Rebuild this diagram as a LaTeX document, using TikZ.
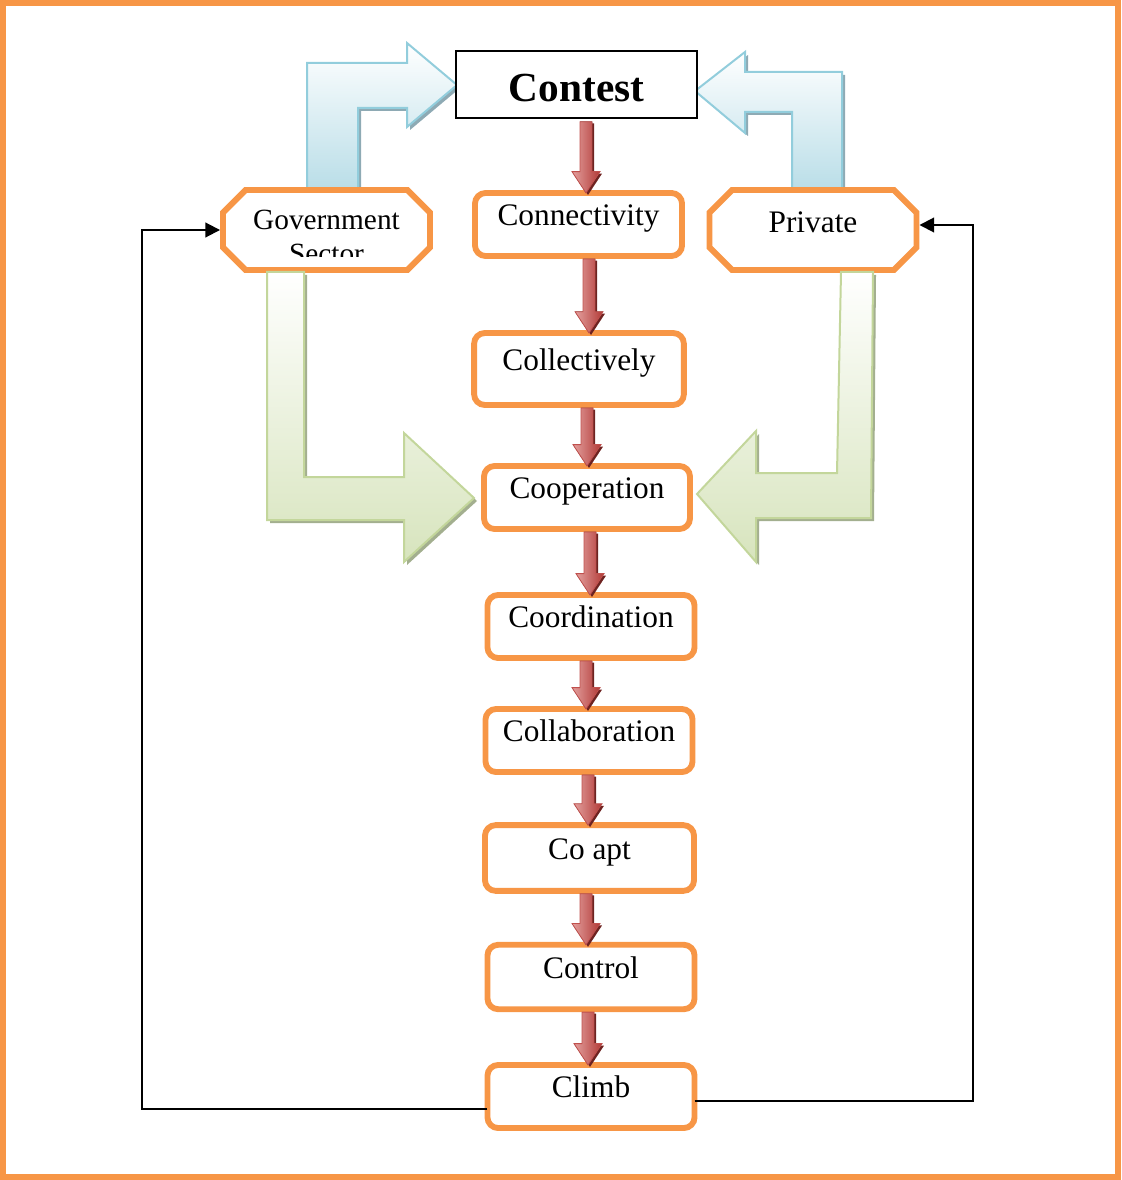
\documentclass[tikz,border=0pt]{standalone}
\usepackage{fontspec}
\setmainfont{Liberation Serif}
\usetikzlibrary{arrows.meta,calc}
\definecolor{frameor}{HTML}{F79646}
\definecolor{blueedge}{HTML}{92CDDC}
\definecolor{bluefill}{HTML}{B4DBE6}
\definecolor{blueshadow}{HTML}{8EAAB4}
\definecolor{greenedge}{HTML}{C3D69B}
\definecolor{greenfill}{HTML}{D7E4BD}
\definecolor{greenshadow}{HTML}{A3AF8F}
\definecolor{redmain}{HTML}{C0504D}
\definecolor{redlight}{HTML}{E3A09E}
\definecolor{reddark}{HTML}{B23A37}
\definecolor{redshadow}{HTML}{6E2321}

\newcommand\bxt[1]{\raisebox{-0.75pt}[0pt][0pt]{#1}}
\newcommand\octa[1]{%
  \filldraw[octline] ([xshift=17pt]#1.north west) -- ([xshift=-17pt]#1.north east)
   -- ([yshift=-17pt]#1.north east) -- ([yshift=17pt]#1.south east)
   -- ([xshift=-17pt]#1.south east) -- ([xshift=17pt]#1.south west)
   -- ([yshift=17pt]#1.south west) -- ([yshift=-17pt]#1.north west) -- cycle;}
\newcommand\redarrow[2]{%
  \fill[redshadow] let \p1=(#1), \p2=(#2) in
   (\x1-3pt,\y1-3.4pt) -- (\x1+6pt,\y1-3.4pt) -- (\x1+6pt,\y2+14.5pt)
   -- (\x1+12pt,\y2+14.5pt) -- (\x1+1.5pt,\y2-1.5pt) -- (\x1-9pt,\y2+14.5pt)
   -- (\x1-3pt,\y2+14.5pt) -- cycle;
  \filldraw[draw=redmain, line width=0.6pt, left color=redlight, right color=reddark]
   let \p1=(#1), \p2=(#2) in
   (\x1-4.5pt,\y1-2.2pt) -- (\x1+4.5pt,\y1-2.2pt) -- (\x1+4.5pt,\y2+16pt)
   -- (\x1+10.5pt,\y2+16pt) -- (\x1,\y2) -- (\x1-10.5pt,\y2+16pt)
   -- (\x1-4.5pt,\y2+16pt) -- cycle;}

\begin{document}
\begin{tikzpicture}[x=0.75pt,y=-0.75pt,
  box/.style={draw=frameor, line width=4.4pt, rounded corners=8pt, fill=white,
    minimum width=155.3pt, minimum height=47.3pt, inner sep=0pt, outer sep=0pt,
    font=\fontsize{23.5}{28}\selectfont},
  octnode/.style={minimum width=155.3pt, minimum height=60pt, inner sep=0pt, outer sep=0pt},
  octline/.style={draw=frameor, fill=white, line width=4.4pt, line join=miter},
  octtext/.style={inner sep=0pt, anchor=base},
  bluearrow/.style={draw=blueedge, line width=1.5pt, top color=white, bottom color=bluefill},
  bluesh/.style={fill=blueshadow},
  greenarrow/.style={draw=greenedge, line width=1.5pt, top color=white, bottom color=greenfill},
  greensh/.style={fill=greenshadow},
  fb/.style={draw=black, line width=1.5pt, -{Triangle[length=11pt,width=11pt]}},
  fbline/.style={draw=black, line width=1.5pt}
]
\useasboundingbox (0,0) rectangle (1121,1180);
% frame
\draw[frameor, line width=4.5pt] (3,3) rectangle (1118,1177);

% blue bent arrows (behind octagons)
\fill[bluesh, shift={(3,3)}] (307,200) -- (307,63) -- (407,63) -- (407,43) -- (457,85)
  -- (407,127) -- (407,108) -- (358,108) -- (358,200) -- cycle;
\filldraw[bluearrow] (307,200) -- (307,63) -- (407,63) -- (407,43) -- (457,85)
  -- (407,127) -- (407,108) -- (358,108) -- (358,200) -- cycle;
\fill[bluesh, shift={(3,3)}] (842,200) -- (842,72) -- (745,72) -- (745,52) -- (695,91)
  -- (745,133) -- (745,112) -- (792,112) -- (792,200) -- cycle;
\filldraw[bluearrow] (842,200) -- (842,72) -- (745,72) -- (745,52) -- (695,91)
  -- (745,133) -- (745,112) -- (792,112) -- (792,200) -- cycle;

% octagons
\node[octnode] (gov) at (326.5,230) {};
\octa{gov}
\node[octtext, font=\fontsize{22}{26}\selectfont] (govtxt) at (326.5,230) {Government};
\begin{scope}
  \clip (230,200) rectangle (425,257);
  \node[octtext, font=\fontsize{22}{26}\selectfont] (govtxt2) at (326.5,264) {Sector};
\end{scope}
\node[octnode] (priv) at (813,230) {};
\octa{priv}
\node[octtext, font=\fontsize{23.5}{28}\selectfont] (privtxt) at (813,233) {Private};

% green bent arrows
\fill[greensh, shift={(3,3)}] (267,272) -- (304,272) -- (304,477) -- (404,477) -- (404,433)
  -- (474,498) -- (404,562) -- (404,520) -- (267,520) -- cycle;
\filldraw[greenarrow] (267,272) -- (304,272) -- (304,477) -- (404,477) -- (404,433)
  -- (474,498) -- (404,562) -- (404,520) -- (267,520) -- cycle;
\fill[greensh, shift={(3,3)}] (841,272) -- (873,272) -- (871,518) -- (756,518) -- (756,562)
  -- (697,494) -- (756,431) -- (756,473) -- (837,473) -- cycle;
\filldraw[greenarrow] (841,272) -- (873,272) -- (871,518) -- (756,518) -- (756,562)
  -- (697,494) -- (756,431) -- (756,473) -- (837,473) -- cycle;

% contest
\node[draw=black, line width=1.1pt, fill=white, minimum width=180.75pt, minimum height=50.25pt,
  inner sep=0pt, font=\bfseries\fontsize{31}{36}\selectfont] (contest) at (576.5,84.5)
  {\raisebox{-13pt}[0pt][0pt]{Contest}};

% boxes
\node[box] (conn) at (578.5,224.5) {\bxt{Connectivity}};
\node[box, minimum width=157.3pt, minimum height=54pt] (coll) at (579,369) {\bxt{Collectively}};
\node[box, minimum width=154.5pt] (coop) at (587,497.5) {\bxt{Cooperation}};
\node[box] (coord) at (591,626.5) {\bxt{Coordination}};
\node[box] (collab) at (589,740.5) {\bxt{Collaboration}};
\node[box, minimum width=156.8pt, minimum height=49.3pt] (coapt) at (589.5,858) {\bxt{Co apt}};
\node[box, minimum height=48.3pt] (ctrl) at (591,977) {\bxt{Control}};
\node[box] (climb) at (591,1096.5) {\bxt{Climb}};

% red arrows
\redarrow{586,0 |- contest.south}{586,0 |- conn.north}
\redarrow{589,0 |- conn.south}{589,0 |- coll.north}
\redarrow{587,0 |- coll.south}{587,0 |- coop.north}
\redarrow{590,0 |- coop.south}{590,0 |- coord.north}
\redarrow{586,0 |- coord.south}{586,0 |- collab.north}
\redarrow{588,0 |- collab.south}{588,0 |- coapt.north}
\redarrow{586,0 |- coapt.south}{586,0 |- ctrl.north}
\redarrow{588,0 |- ctrl.south}{588,0 |- climb.north}

% feedback loops
\coordinate (lb) at (142,1109);
\coordinate (lt) at (142,230);
\coordinate (rb) at (973,1101);
\coordinate (rt) at (973,225);
\draw[fb] (climb.west |- lb) -- (lb) -- (lt) -- ([xshift=-2.2pt]gov.west);
\draw[fb] (climb.east |- rb) -- (rb) -- (rt) -- ([xshift=2.2pt]priv.east |- rt);
\end{tikzpicture}
\end{document}
